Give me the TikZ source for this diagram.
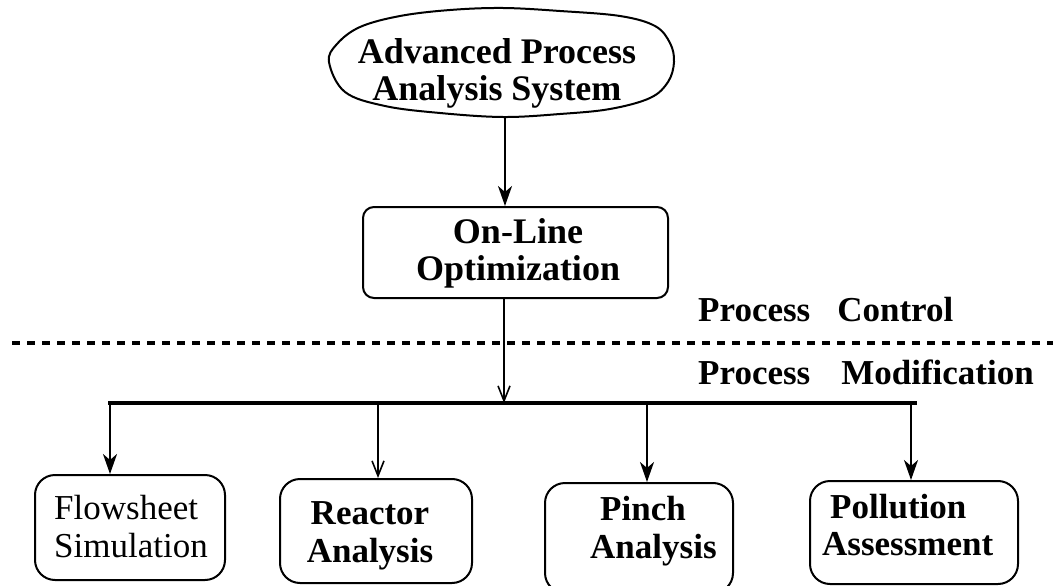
\documentclass[tikz,border=0pt]{standalone}
\usepackage{fontspec}
\setmainfont{Liberation Serif}
\usetikzlibrary{shapes.geometric,arrows.meta}
\begin{document}
\begin{tikzpicture}[x=1pt,y=-1pt,
  box/.style={draw,line width=2pt,rounded corners=20pt,inner sep=0pt},
  txt/.style={inner sep=0pt,align=center,font=\fontsize{35}{38}\selectfont\bfseries},
  txtl/.style={inner sep=0pt,align=left,font=\fontsize{35}{38}\selectfont\bfseries},
  arr/.style={line width=2pt,-{Stealth[length=20pt,width=14pt,inset=6pt]}},
  varr/.style={line width=1.6pt,-{Straight Barb[length=15pt,width=12pt,line width=1.6pt]}}]
\useasboundingbox (0,0) rectangle (1053,586);
% top flattened ellipse
\draw[line width=2pt] plot[smooth cycle,tension=0.6] coordinates {
  (329,62) (337,44) (360,27) (400,16) (450,10) (503,8) (560,11) (620,16) (655,26)
  (670,43) (674,62) (668,82) (650,98) (610,109) (560,114) (503,117) (440,113)
  (385,106) (345,92)};
\node[inner sep=0pt] (apast) at (497,75)
  {\fontsize{36}{37}\selectfont\bfseries\begin{tabular}{@{}c@{}}Advanced Process\\Analysis System\end{tabular}};
\coordinate (apasS) at (505,117);
% on-line optimization
\node[box,rounded corners=11pt,minimum width=305pt,minimum height=91pt] (olo) at (515.5,252.5) {};
\node[txt,font=\fontsize{36}{37}\selectfont\bfseries] (olot) at (518,253) {On-Line\\Optimization};
% separators and labels
\coordinate (dl) at (12,343);
\coordinate (dr) at (1053,343);
\draw[line width=3.5pt,dash pattern=on 8pt off 7pt] (dl) -- (dr);
\node[txt,anchor=base west] (pc) at (698,321) {Process\hspace{27pt}Control};
\node[txt,anchor=base west] (pm) at (698,384) {Process\hspace{31pt}Modification};
% bottom boxes
\node[box,minimum width=190pt,minimum height=105pt] (fs) at (130,527.5) {};
\node[box,minimum width=192pt,minimum height=104pt] (ra) at (376,531) {};
\node[box,minimum width=188pt,minimum height=110pt] (pa) at (639,538) {};
\node[box,minimum width=208pt,minimum height=103pt] (po) at (914,532.5) {};
\node[txtl,anchor=west,font=\fontsize{35}{38}\selectfont] (fst) at (54,527) {Flowsheet\\Simulation};
\node[txt] (rat) at (370,536) {Reactor\\Analysis};
\node[txtl,anchor=west] (pat) at (590,531) {\hspace*{10pt}Pinch\\Analysis};
\node[txtl,anchor=west,font=\fontsize{35}{37}\selectfont\bfseries] (pot) at (822,524.7) {\hspace*{8pt}Pollution\\Assessment};
% bar
\coordinate (barL) at (108,403);
\coordinate (barR) at (917,403);
\coordinate (b0) at (504,403);
\coordinate (d1) at (110,403);
\coordinate (d2) at (378,403);
\coordinate (d3) at (647,403);
\coordinate (d4) at (911,403);
\draw[line width=4pt] (barL) -- (barR);
% connectors
\draw[arr] (apasS) -- (apasS |- olo.north);
\draw[varr] ([xshift=-11.5pt]olo.south) -- (b0);
\draw[arr] (d1) -- (d1 |- fs.north);
\draw[varr] (d2) -- (d2 |- ra.north);
\draw[arr] (d3) -- (d3 |- pa.north);
\draw[arr] (d4) -- (d4 |- po.north);
\end{tikzpicture}
\end{document}
